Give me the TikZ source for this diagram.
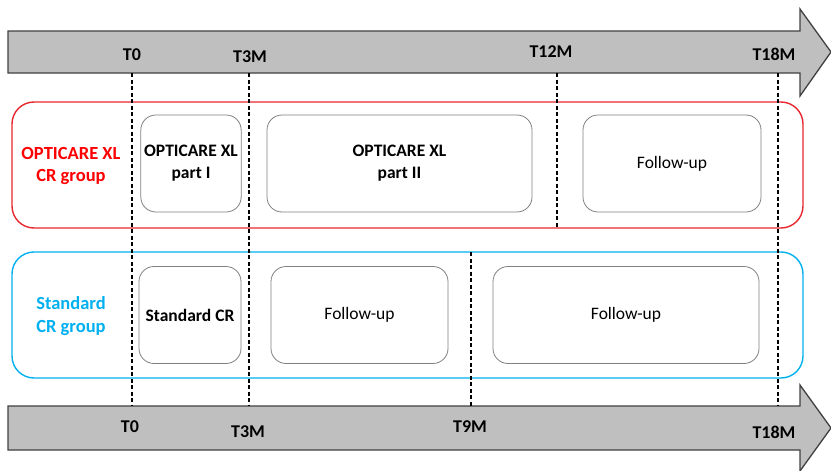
\documentclass[tikz,border=0pt]{standalone}
\usepackage{fontspec}
\setmainfont{Carlito}
\definecolor{shaftgray}{HTML}{BFBFBF}
\definecolor{edgegray}{HTML}{404040}
\definecolor{boxgray}{HTML}{808080}
\definecolor{xlred}{HTML}{FF0000}
\definecolor{xledge}{HTML}{E8262D}
\definecolor{stdblue}{HTML}{00B0F0}
\tikzset{
  timeline/.style={draw=edgegray, fill=shaftgray, line width=1.3pt, line join=miter},
  tick/.style={font=\fontsize{18}{20}\selectfont\bfseries, text=black},
  guide/.style={draw=black, line width=1.3pt, dash pattern=on 4pt off 2.5pt},
  group/.style={draw, line width=1.4pt, rounded corners=22pt, minimum width=791pt, minimum height=126pt},
  grouplabel/.style={font=\fontsize{18.5}{22.5}\selectfont\bfseries, align=center},
  phase/.style={draw=boxgray, line width=0.8pt, rounded corners=15pt, minimum height=97pt, align=center,
                font=\fontsize{17.5}{22}\selectfont},
  boldphase/.style={phase, font=\fontsize{17.5}{22}\selectfont\bfseries}
}
\begin{document}
\begin{tikzpicture}[x=1pt, y=-1pt]
\useasboundingbox (0,0) rectangle (831,471);

% time axes
\draw[timeline] (8,31) -- (800,31) -- (800,9) -- (831,52) -- (800,96) -- (800,73) -- (8,73) -- cycle;
\draw[timeline] (8,406) -- (800,406) -- (800,385) -- (831,428) -- (800,471) -- (800,450) -- (8,450) -- cycle;

% axis labels
\node[tick] (a0)   at (132,55) {T0};
\node[tick] (a3)   at (250,57) {T3M};
\node[tick] (a12)  at (551,52) {T12M};
\node[tick] (a18)  at (774,54) {T18M};
\node[tick] (b0)   at (130,427) {T0};
\node[tick] (b3)   at (248,432) {T3M};
\node[tick] (b9)   at (470,427) {T9M};
\node[tick] (b18)  at (774,432) {T18M};

% study groups
\node[group, draw=xledge] (xl) at (407.5,165) {};
\node[group, draw=stdblue] (std) at (407.5,315) {};
\node[grouplabel, text=xlred] (xllab) at (71,166) {OPTICARE XL\\CR group};
\node[grouplabel, text=stdblue] (stdlab) at (71,316) {Standard\\CR group};

% phases, OPTICARE XL group
\node[boldphase, minimum width=100pt] (p1) at (191,163.5) {OPTICARE XL\\part I};
\node[boldphase, minimum width=265pt] (p2) at (399.5,163.5) {OPTICARE XL\\part II};
\node[phase, minimum width=178pt] (f1) at (672,163.5) {Follow-up};

% phases, standard group
\node[boldphase, minimum width=102pt] (s1) at (190,315) {Standard CR};
\node[phase, minimum width=177pt] (f2) at (359.5,315) {Follow-up};
\node[phase, minimum width=266pt] (f3) at (626,315) {Follow-up};

% time guides
\coordinate (g0a) at (132,73);  \coordinate (g0b) at (132,406);
\coordinate (g3a) at (249,73);  \coordinate (g3b) at (249,406);
\coordinate (g18a) at (778,73); \coordinate (g18b) at (778,406);
\coordinate (g12a) at (557,73); \coordinate (g12b) at (557,228);
\coordinate (g9a) at (471,252); \coordinate (g9b) at (471,406);
\draw[guide] (g0a) -- (g0b);
\draw[guide] (g3a) -- (g3b);
\draw[guide] (g18a) -- (g18b);
\draw[guide] (g12a) -- (g12b);
\draw[guide] (g9a) -- (g9b);
\end{tikzpicture}
\end{document}
